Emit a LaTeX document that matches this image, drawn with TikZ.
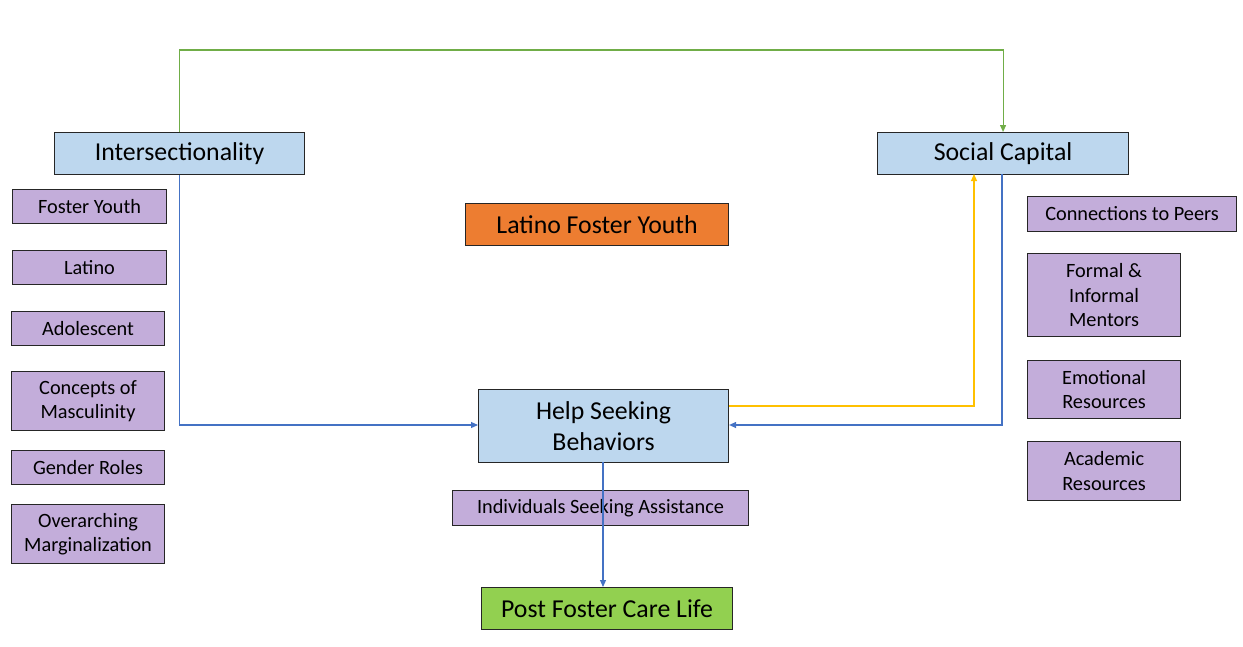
\documentclass[tikz,border=0pt]{standalone}
\usepackage{fontspec}
\setmainfont{Carlito}
\usetikzlibrary{arrows.meta}
\definecolor{lblue}{HTML}{BDD7EE}
\definecolor{lpurple}{HTML}{C3ADDA}
\definecolor{dorange}{HTML}{ED7D31}
\definecolor{lgreen}{HTML}{92D050}
\definecolor{cgreen}{HTML}{70AD47}
\definecolor{cblue}{HTML}{4472C4}
\definecolor{cyellow}{HTML}{FFC000}
\tikzset{
  base/.style={draw=black!85, line width=1.1pt, inner sep=0pt, align=center, anchor=north west},
  bigbox/.style={base, font=\fontsize{25.8}{30.5}\selectfont},
  smallbox/.style={base, fill=lpurple, font=\fontsize{20.3}{24.3}\selectfont},
  conn/.style={line width=1.1pt, -{Triangle[length=7pt,width=6pt]}},
}
\begin{document}
\begin{tikzpicture}[x=1pt,y=-1pt]
\useasboundingbox (0,0) rectangle (1243,646);
% main boxes
\node[bigbox, fill=lblue, minimum width=250, minimum height=42] (inter) at (54,132) {Intersectionality};
\node[bigbox, fill=lblue, minimum width=251, minimum height=42] (social) at (877,132) {Social Capital};
\node[bigbox, fill=dorange, minimum width=263, minimum height=42] (latino) at (465,203) {Latino Foster Youth};
\node[bigbox, fill=lblue, minimum width=250, minimum height=73] (help) at (478,389) {Help Seeking\\Behaviors};
\node[bigbox, fill=lgreen, minimum width=251, minimum height=42] (post) at (481,587) {Post Foster Care Life};
\node[smallbox, minimum width=296, minimum height=35] (indiv) at (452,490) {Individuals Seeking Assistance};
% left boxes
\node[smallbox, minimum width=154, minimum height=34] (fy) at (12,189) {Foster Youth};
\node[smallbox, minimum width=154, minimum height=34] (lat) at (12,250) {Latino};
\node[smallbox, minimum width=153, minimum height=34] (ado) at (11,311) {Adolescent};
\node[smallbox, minimum width=153, minimum height=59] (masc) at (11,371) {Concepts of\\Masculinity};
\node[smallbox, minimum width=153, minimum height=34] (gender) at (11,450) {Gender Roles};
\node[smallbox, minimum width=153, minimum height=59] (marg) at (11,504) {Overarching\\Marginalization};
% right boxes
\node[smallbox, minimum width=209, minimum height=35] (peers) at (1027,196) {Connections to Peers};
\node[smallbox, minimum width=153, minimum height=83] (mentors) at (1027,253) {Formal \&\\Informal\\Mentors};
\node[smallbox, minimum width=153, minimum height=58] (emo) at (1027,360) {Emotional\\Resources};
\node[smallbox, minimum width=153, minimum height=59] (acad) at (1027,441) {Academic\\Resources};
% connectors
\coordinate (g1) at (inter.north |- 0,50);
\coordinate (g2) at (social.north |- 0,50);
\draw[conn, cgreen] (inter.north) -- (g1) -- (g2) -- (social.north);
\draw[conn, cblue] (inter.south) |- (help.west |- 0,425);
\draw[conn, cyellow] (help.east |- 0,406) -| (974,174);
\draw[conn, cblue] (1002,174) |- (help.east |- 0,425);
\draw[conn, cblue] (603,462) -- (603,587);
\end{tikzpicture}
\end{document}
